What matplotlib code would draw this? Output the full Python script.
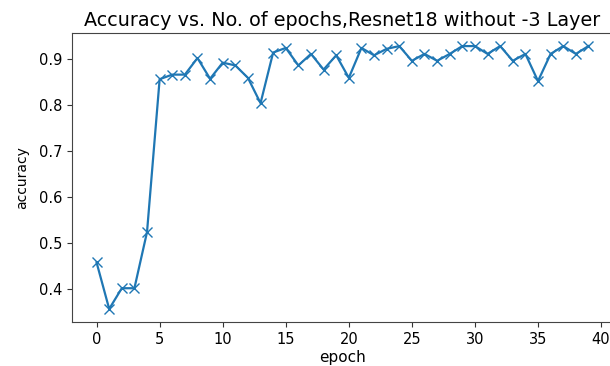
import numpy as np
import matplotlib
matplotlib.use("Agg")
import matplotlib.pyplot as plt

# accuracy per epoch
epochs = np.arange(40)
accuracy = [0.458, 0.357, 0.402, 0.402, 0.524, 0.856, 0.866, 0.866, 0.902, 0.857,
            0.892, 0.886, 0.859, 0.804, 0.914, 0.924, 0.886, 0.911, 0.877, 0.908,
            0.859, 0.924, 0.908, 0.922, 0.928, 0.896, 0.911, 0.896, 0.911, 0.928,
            0.928, 0.911, 0.928, 0.896, 0.911, 0.852, 0.911, 0.928, 0.911, 0.928]

fig = plt.figure(figsize=(6.1, 3.66), dpi=100)
ax = fig.add_axes([0.118, 0.120, 0.887, 0.790])

ax.plot(epochs, accuracy, '-x', color='#1f77b4', lw=1.6, markersize=7)

ax.set_xticks([0, 5, 10, 15, 20, 25, 30, 35, 40])
ax.set_yticks([0.4, 0.5, 0.6, 0.7, 0.8, 0.9])
ax.tick_params(labelsize=10.5, colors='#333333', labelcolor='black')
for s in ax.spines.values():
    s.set_color('#444444')

ax.set_xlabel("epoch", fontsize=11, labelpad=2)
ax.set_ylabel("accuracy", fontsize=10, labelpad=7)
ax.set_title("Accuracy vs. No. of epochs,Resnet18 without -3 Layer", fontsize=13.8, pad=5)

fig.savefig("out.png", dpi=100)
